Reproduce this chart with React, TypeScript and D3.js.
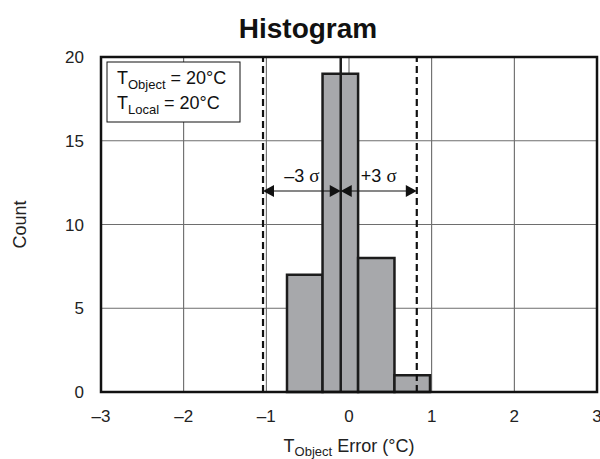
import React, { useEffect, useRef } from 'react';
import * as d3 from 'd3';

// histogram bins (°C)
const binEdges = [-0.75, -0.32, 0.11, 0.55, 0.98];
const binCounts = [7, 19, 8, 1];
const meanError = -0.1;
const minusThreeSigma = -1.04;
const plusThreeSigma = 0.82;
const arrowLevel = 12;

const xTicks = [-3, -2, -1, 0, 1, 2, 3];
const yTicks = [0, 5, 10, 15, 20];
const xTickLabels = ['–3', '–2', '–1', '0', '1', '2', '3'];

const legendLines = [
  { main: 'T', sub: 'Object', rest: ' = 20°C' },
  { main: 'T', sub: 'Local', rest: ' = 20°C' },
];

const font = '"Liberation Sans", Arial, Helvetica, sans-serif';

export default function App() {
  const svgRef = useRef<SVGSVGElement>(null);

  useEffect(() => {
    if (!svgRef.current) return;
    const svg = d3.select(svgRef.current);
    svg.selectAll('*').remove();

    const width = 600;
    const height = 459;
    const margin = { top: 57, right: 3, bottom: 67, left: 101 };

    const x = d3.scaleLinear()
      .domain([-3, 3])
      .range([margin.left, width - margin.right]);

    const y = d3.scaleLinear()
      .domain([0, 20])
      .range([height - margin.bottom, margin.top]);

    svg.attr('width', width).attr('height', height);

    // grid
    svg.append('g')
      .selectAll('line')
      .data(xTicks.slice(1, -1))
      .enter()
      .append('line')
      .attr('x1', d => x(d))
      .attr('x2', d => x(d))
      .attr('y1', y(0))
      .attr('y2', y(20))
      .attr('stroke', '#5a5a5a')
      .attr('stroke-width', 1);

    svg.append('g')
      .selectAll('line')
      .data(yTicks.slice(1, -1))
      .enter()
      .append('line')
      .attr('x1', x(-3))
      .attr('x2', x(3))
      .attr('y1', d => y(d))
      .attr('y2', d => y(d))
      .attr('stroke', '#6e6e6e')
      .attr('stroke-width', 1);

    // bars
    svg.append('g')
      .selectAll('rect')
      .data(binCounts)
      .enter()
      .append('rect')
      .attr('x', (d, i) => x(binEdges[i]))
      .attr('y', d => y(d))
      .attr('width', (d, i) => x(binEdges[i + 1]) - x(binEdges[i]))
      .attr('height', d => y(0) - y(d))
      .attr('fill', '#a7a8ab')
      .attr('stroke', '#1c1c1c')
      .attr('stroke-width', 2.5);

    // mean line
    svg.append('line')
      .attr('x1', x(meanError))
      .attr('x2', x(meanError))
      .attr('y1', y(0))
      .attr('y2', y(20))
      .attr('stroke', '#1c1c1c')
      .attr('stroke-width', 2.5);

    // 3 sigma limits
    svg.append('g')
      .selectAll('line')
      .data([minusThreeSigma, plusThreeSigma])
      .enter()
      .append('line')
      .attr('x1', d => x(d))
      .attr('x2', d => x(d))
      .attr('y1', y(0))
      .attr('y2', y(20))
      .attr('stroke', '#111')
      .attr('stroke-width', 2.2)
      .attr('stroke-dasharray', '7,4');

    // frame
    svg.append('rect')
      .attr('x', x(-3))
      .attr('y', y(20))
      .attr('width', x(3) - x(-3))
      .attr('height', y(0) - y(20))
      .attr('fill', 'none')
      .attr('stroke', '#111')
      .attr('stroke-width', 2.5);

    // sigma arrows
    const ay = y(arrowLevel);
    const head = (tip: number, dir: number) =>
      `M${tip},${ay} L${tip - dir * 11},${ay - 6} L${tip - dir * 11},${ay + 6} Z`;

    const spans = [
      { from: minusThreeSigma, to: meanError, label: '–3' },
      { from: meanError, to: plusThreeSigma, label: '+3' },
    ];

    spans.forEach(s => {
      svg.append('line')
        .attr('x1', x(s.from) + 6)
        .attr('x2', x(s.to) - 6)
        .attr('y1', ay)
        .attr('y2', ay)
        .attr('stroke', '#111')
        .attr('stroke-width', 1.2);
      svg.append('path').attr('d', head(x(s.from), -1)).attr('fill', '#111');
      svg.append('path').attr('d', head(x(s.to), 1)).attr('fill', '#111');

      const t = svg.append('text')
        .attr('x', (x(s.from) + x(s.to)) / 2)
        .attr('y', ay - 9)
        .attr('text-anchor', 'middle')
        .style('font-family', font)
        .style('font-size', '18px')
        .style('fill', '#111');
      t.append('tspan').text(s.label + ' ');
      t.append('tspan')
        .style('font-family', '"Liberation Serif", "Times New Roman", serif')
        .style('font-size', '19px')
        .text('σ');
    });

    // legend box
    const lx = x(-3) + 6;
    const ly = y(20) + 5;
    svg.append('rect')
      .attr('x', lx)
      .attr('y', ly)
      .attr('width', 133)
      .attr('height', 60)
      .attr('fill', 'white')
      .attr('stroke', '#111')
      .attr('stroke-width', 1);

    legendLines.forEach((l, i) => {
      const t = svg.append('text')
        .attr('x', lx + 10)
        .attr('y', ly + 22 + i * 25)
        .style('font-family', font)
        .style('font-size', '18px')
        .style('fill', '#111');
      t.append('tspan').text(l.main);
      t.append('tspan').attr('dy', 5).style('font-size', '13px').text(l.sub);
      t.append('tspan').attr('dy', -5).text(l.rest);
    });

    // tick labels
    svg.append('g')
      .selectAll('text')
      .data(xTicks)
      .enter()
      .append('text')
      .attr('x', d => x(d))
      .attr('y', y(0) + 30)
      .attr('text-anchor', 'middle')
      .style('font-family', font)
      .style('font-size', '17px')
      .style('fill', '#222')
      .text((d, i) => xTickLabels[i]);

    svg.append('g')
      .selectAll('text')
      .data(yTicks)
      .enter()
      .append('text')
      .attr('x', x(-3) - 17)
      .attr('y', d => y(d) + 6)
      .attr('text-anchor', 'end')
      .style('font-family', font)
      .style('font-size', '17px')
      .style('fill', '#222')
      .text(d => d);

    // axis titles
    const xt = svg.append('text')
      .attr('x', (x(-3) + x(3)) / 2)
      .attr('y', 452)
      .attr('text-anchor', 'middle')
      .style('font-family', font)
      .style('font-size', '18px')
      .style('fill', '#222');
    xt.append('tspan').text('T');
    xt.append('tspan').attr('dy', 4).style('font-size', '13px').text('Object');
    xt.append('tspan').attr('dy', -4).text(' Error (°C)');

    svg.append('text')
      .attr('transform', `translate(26,${(y(0) + y(20)) / 2}) rotate(-90)`)
      .attr('text-anchor', 'middle')
      .style('font-family', font)
      .style('font-size', '18px')
      .style('fill', '#222')
      .text('Count');

    svg.append('text')
      .attr('x', 308)
      .attr('y', 38)
      .attr('text-anchor', 'middle')
      .style('font-family', font)
      .style('font-size', '28px')
      .style('font-weight', 'bold')
      .style('fill', '#111')
      .text('Histogram');
  }, []);

  return (
    <svg ref={svgRef} style={{ position: 'absolute', left: 0, top: 0, background: 'white' }}></svg>
  );
}
